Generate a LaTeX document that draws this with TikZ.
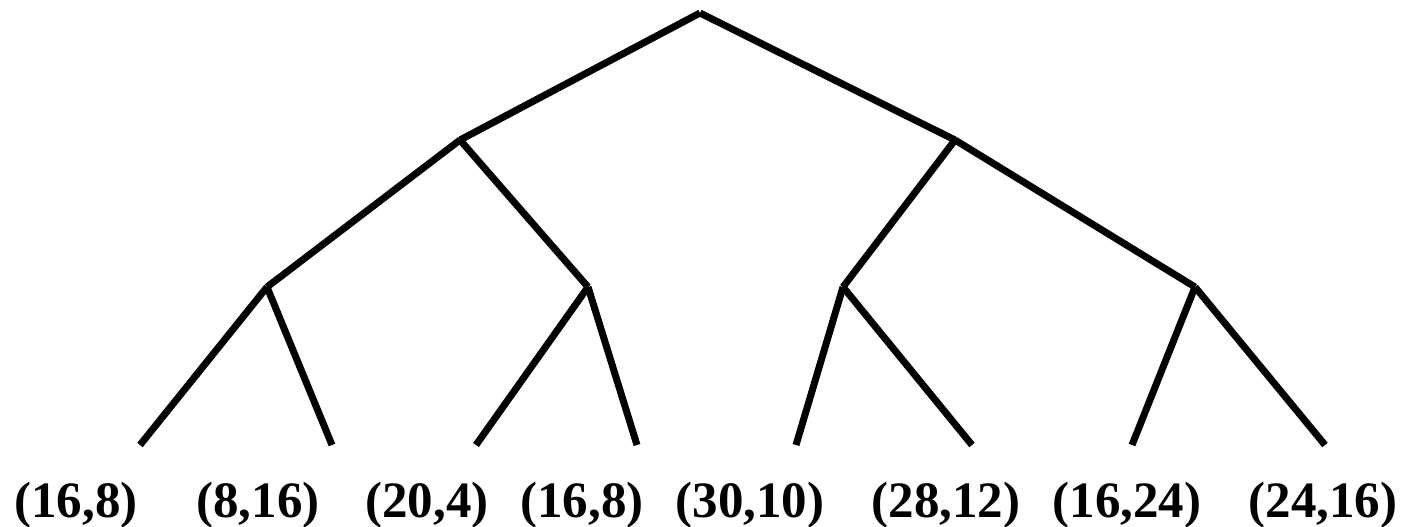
\documentclass[tikz,border=0pt]{standalone}
\usepackage{fontspec}
\setmainfont{Liberation Serif}
\begin{document}
\begin{tikzpicture}[x=1pt,y=-1pt,
  edge/.style={line width=7pt,line cap=butt},
  lbl/.style={anchor=base,inner sep=0pt,font=\fontsize{51}{51}\selectfont\bfseries}]
\useasboundingbox (0,0) rectangle (1405,527);
\coordinate (r) at (700,13);
\coordinate (a) at (460,140);
\coordinate (b) at (955,140);
\coordinate (a1) at (267,287);
\coordinate (a2) at (588,287);
\coordinate (b1) at (843,287);
\coordinate (b2) at (1195,287);
\coordinate (l1) at (140,445);
\coordinate (l2) at (332,445);
\coordinate (l3) at (476,445);
\coordinate (l4) at (637,445);
\coordinate (l5) at (796,445);
\coordinate (l6) at (972,445);
\coordinate (l7) at (1132,445);
\coordinate (l8) at (1325,445);
\draw[edge] (r) -- (a);
\draw[edge] (r) -- (b);
\draw[edge] (a) -- (a1);
\draw[edge] (a) -- (a2);
\draw[edge] (b) -- (b1);
\draw[edge] (b) -- (b2);
\draw[edge] (a1) -- (l1);
\draw[edge] (a1) -- (l2);
\draw[edge] (a2) -- (l3);
\draw[edge] (a2) -- (l4);
\draw[edge] (b1) -- (l5);
\draw[edge] (b1) -- (l6);
\draw[edge] (b2) -- (l7);
\draw[edge] (b2) -- (l8);
\node[lbl] (t1) at (76,517) {(16,8)};
\node[lbl] (t2) at (258,517) {(8,16)};
\node[lbl] (t3) at (427,517) {(20,4)};
\node[lbl] (t4) at (582,517) {(16,8)};
\node[lbl] (t5) at (750,517) {(30,10)};
\node[lbl] (t6) at (946,517) {(28,12)};
\node[lbl] (t7) at (1127,517) {(16,24)};
\node[lbl] (t8) at (1323,517) {(24,16)};
\end{tikzpicture}
\end{document}
